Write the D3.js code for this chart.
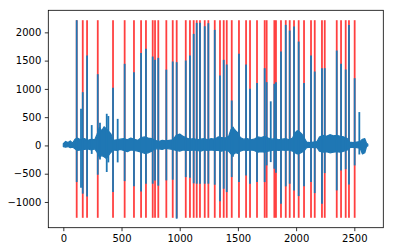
<!DOCTYPE html>
<html>
<head>
<meta charset="utf-8">
<script src="https://cdn.jsdelivr.net/npm/d3@7"></script>
<style>
    body { margin: 0; background: #fff; }
    #chart { width: 393px; height: 252px; }
    .tick text { font-family: "DejaVu Sans", sans-serif; font-size: 10px; fill: #000; }
    .tick line { stroke: #000; stroke-width: 0.8; }
</style>
</head>
<body>
<div id="chart"><svg width="393" height="252"></svg></div>
<script>

// detected peak positions (red markers) with the signal's high / low at each
const peakX = [115, 167, 204, 296, 427, 527, 607, 668, 710, 768, 788, 816, 885, 940, 974,
    1052, 1088, 1120, 1146, 1174, 1215, 1246, 1301, 1346, 1378, 1404, 1447, 1509, 1570, 1604,
    1664, 1730, 1747, 1813, 1827, 1870, 1911, 1945, 1982, 2022, 2068, 2128, 2160, 2222, 2246,
    2349, 2386, 2426, 2454, 2503];
const peakHi = [2215, 942, 1590, 1260, 1019, 1443, 1296, 1634, 1708, 1572, 1515, 1549, 1340, 1484, 1472,
    1502, 1590, 1973, 2168, 2168, 2108, 2162, 2044, 1237, 1514, 1431, 795, 1620, 1431, 1002,
    1102, 1366, 1119, 1090, 1119, 1661, 2132, 2032, 2102, 1837, 1102, 1590, 1307, 1366, 1366,
    1678, 1443, 1343, 2132, 1189];
const peakLo = [-648, -853, -901, -518, -825, -631, -724, -813, -677, -677, -618, -712, -618, -606, -1296,
    -560, -571, -670, -677, -677, -677, -677, -695, -989, -766, -825, -560, -648, -530, -677,
    -648, -648, -353, -412, -483, -1030, -724, -677, -795, -896, -724, -648, -843, -1030, -489,
    -795, -442, -420, -689, -353];

// spikes in the signal with no marker
const extraX = [152, 244, 315, 373, 387, 467, 1458, 1782, 2543];
const extraHi = [650, 360, 400, 560, 520, 470, 330, 780, 590];
const extraLo = [-750, -150, -250, -470, -300, -300, -200, -295, -160];

// marker line extent
const markerMin = -1280;
const markerMax = 2215;

// envelope of the background noise
const noiseX = [0, 20, 40, 60, 80, 100, 120, 150, 180, 210, 240, 270, 290, 310, 330, 350, 370, 390,
    410, 430, 460, 490, 520, 550, 580, 610, 640, 670, 700, 730, 760, 790, 820, 850, 880, 910, 940,
    970, 1000, 1030, 1060, 1090, 1120, 1150, 1180, 1210, 1240, 1270, 1300, 1330, 1360, 1390, 1420,
    1440, 1460, 1480, 1500, 1520, 1550, 1580, 1610, 1640, 1670, 1700, 1730, 1760, 1790, 1820, 1850,
    1880, 1910, 1940, 1970, 1990, 2010, 2030, 2050, 2070, 2090, 2120, 2150, 2180, 2200, 2230, 2260,
    2290, 2320, 2350, 2380, 2410, 2440, 2460, 2490, 2520, 2550, 2570, 2590, 2605, 2616];
const noiseHi = [30, 70, 50, 80, 40, 110, 130, 100, 120, 90, 110, 100, 200, 320, 260, 330, 290, 250,
    200, 90, 100, 110, 120, 100, 130, 110, 90, 140, 150, 130, 120, 90, 70, 90, 80, 90, 100,
    180, 200, 160, 130, 110, 120, 100, 110, 120, 100, 120, 110, 150, 140, 130, 160,
    280, 310, 260, 220, 140, 110, 120, 100, 110, 150, 140, 160, 130, 110, 120, 100,
    110, 120, 100, 130, 220, 260, 240, 200, 130, 60, 50, 60, 70, 150, 180, 160,
    190, 170, 180, 160, 150, 120, 60, 50, 60, 70, 110, 120, 40, 20];
const noiseLo = [-20, -30, -20, -40, -30, -60, -90, -80, -70, -60, -80, -60, -120, -210, -180, -200, -230, -170,
    -120, -80, -90, -70, -90, -110, -80, -90, -100, -120, -140, -130, -100, -60, -60, -70, -50, -60, -70,
    -90, -100, -80, -90, -90, -80, -90, -100, -80, -90, -80, -90, -90, -100, -80, -100,
    -150, -160, -130, -140, -100, -80, -90, -80, -90, -120, -110, -120, -100, -90, -80, -90,
    -80, -90, -80, -100, -130, -150, -140, -120, -90, -40, -30, -40, -40, -100, -120, -110,
    -130, -120, -110, -120, -100, -80, -40, -30, -40, -50, -150, -130, -20, -10];

// tick labels
const xTicks = [0, 500, 1000, 1500, 2000, 2500];
const yTicks = [-1000, -500, 0, 500, 1000, 1500, 2000];

function makePlot() {

    /**********************
    ***** BASIC SETUP *****
    **********************/

    const width = 393;
    const height = 252;
    const margin = {top: 10.3, left: 48.3, right: 9.7, bottom: 24.3};

    const svg = d3.select("#chart").select("svg");

    /***********************
    ***** X & Y SCALES *****
    ***********************/

    const xScale = d3.scaleLinear()
        .domain([-129, 2749])
        .range([margin.left, width - margin.right]);

    const yScale = d3.scaleLinear()
        .domain([-1455, 2390])
        .range([height - margin.bottom, margin.top]);

    /**************************
    ***** RED PEAK MARKERS *****
    **************************/

    svg.append("g")
        .attr("id", "markers")
        .selectAll("line")
        .data(peakX)
        .enter()
        .append("line")
        .attr("x1", d => xScale(d))
        .attr("x2", d => xScale(d))
        .attr("y1", yScale(markerMin))
        .attr("y2", yScale(markerMax))
        .attr("stroke", "#ff0000")
        .attr("stroke-opacity", 0.75)
        .attr("stroke-width", 1.8);

    /*****************
    ***** SIGNAL *****
    *****************/

    const noise = noiseX.map((x, i) => ({x: x, hi: noiseHi[i], lo: noiseLo[i]}));

    const band = d3.area()
        .x(d => xScale(d.x))
        .y0(d => yScale(d.lo))
        .y1(d => yScale(d.hi));

    const signal = svg.append("g").attr("id", "signal");

    signal.append("path")
        .datum(noise)
        .attr("d", band)
        .attr("fill", "#1f77b4")
        .attr("stroke", "#1f77b4")
        .attr("stroke-width", 1.2)
        .attr("stroke-linejoin", "round");

    const spikes = peakX.map((x, i) => ({x: x, hi: peakHi[i], lo: peakLo[i]}))
        .concat(extraX.map((x, i) => ({x: x, hi: extraHi[i], lo: extraLo[i]})));

    signal.selectAll(".spike")
        .data(spikes)
        .enter()
        .append("line")
        .attr("class", "spike")
        .attr("x1", d => xScale(d.x))
        .attr("x2", d => xScale(d.x))
        .attr("y1", d => yScale(d.lo))
        .attr("y2", d => yScale(d.hi))
        .attr("stroke", "#1f77b4")
        .attr("stroke-width", 1.8);

    /*****************
    ***** AXES *******
    *****************/

    const xaxis = svg.append("g")
        .attr("transform", `translate(0, ${height - margin.bottom})`)
        .call(d3.axisBottom(xScale)
            .tickValues(xTicks)
            .tickSize(3.5)
            .tickPadding(3.5)
            .tickFormat(d3.format("d")));

    const yaxis = svg.append("g")
        .attr("transform", `translate(${margin.left}, 0)`)
        .call(d3.axisLeft(yScale)
            .tickValues(yTicks)
            .tickSize(3.5)
            .tickPadding(3.5)
            .tickFormat(d3.format("d")));

    xaxis.select(".domain").remove();
    yaxis.select(".domain").remove();

    // axes frame
    svg.append("rect")
        .attr("x", margin.left)
        .attr("y", margin.top)
        .attr("width", width - margin.left - margin.right)
        .attr("height", height - margin.top - margin.bottom)
        .attr("fill", "none")
        .attr("stroke", "#000")
        .attr("stroke-width", 0.8);
}

makePlot();
</script>
</body>
</html>
